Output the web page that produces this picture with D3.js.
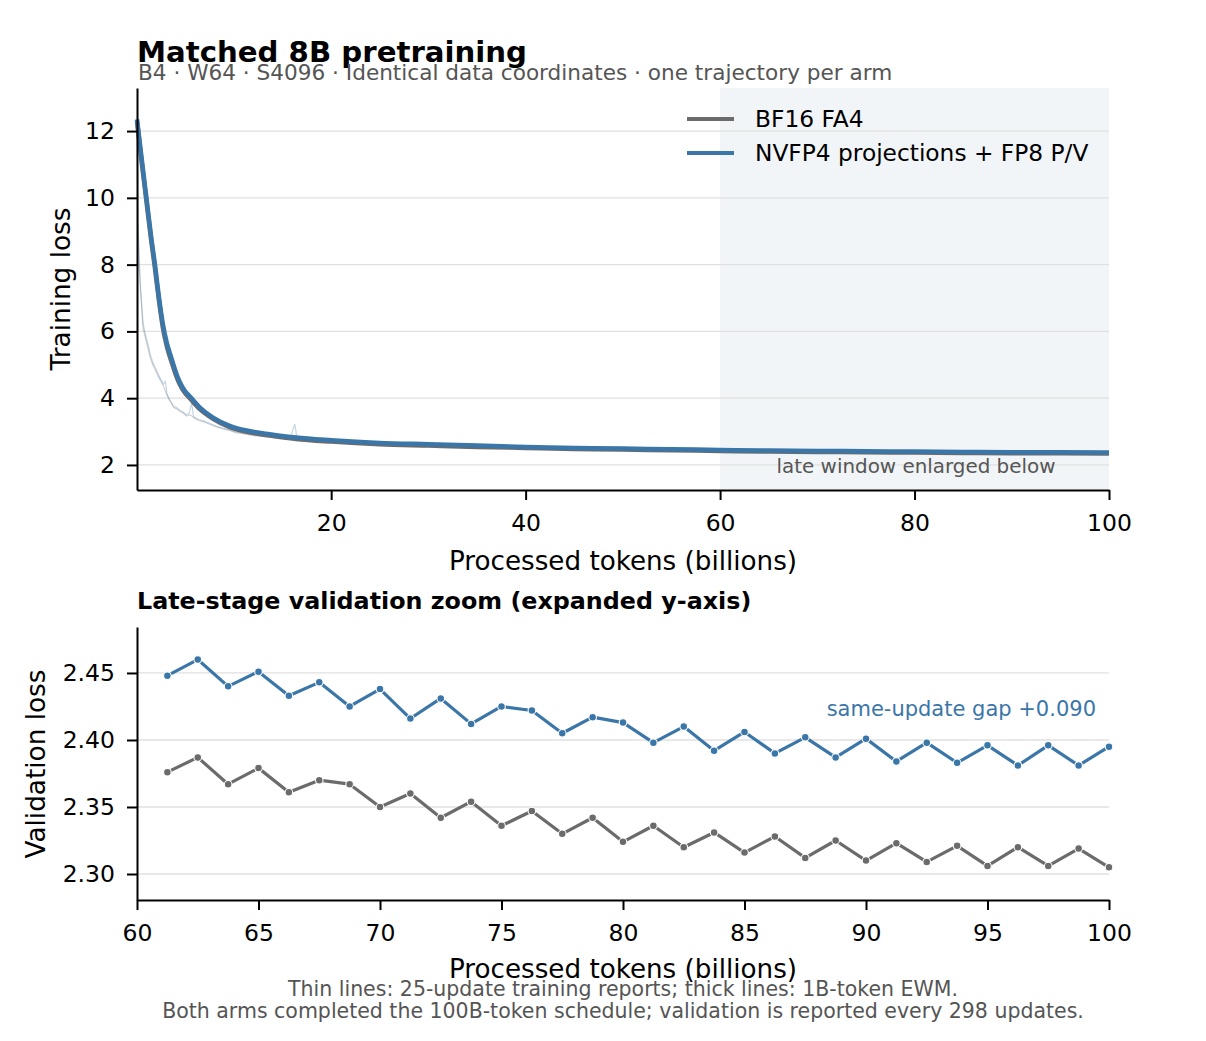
<!DOCTYPE html>
<html>
<head>
<meta charset="utf-8">
<script src="https://cdn.jsdelivr.net/npm/d3@7.9.0/dist/d3.min.js"></script>
<style>
  body { margin: 0; background: #fff; }
  svg text { font-family: "DejaVu Sans", sans-serif; }
</style>
</head>
<body>
<svg id="chart" width="1206" height="1041"></svg>
<script>
// training loss, thick lines = 1B-token EWM (tokens in billions, loss)
const bf16Ewm = [
  [0.03, 12.3], [0.5, 11.1], [1.0, 9.9], [1.5, 8.7], [1.85, 7.95], [2.3, 6.9],
  [2.7, 6.1], [3.1, 5.55], [3.57, 5.1], [4.0, 4.72], [4.4, 4.43], [5.0, 4.14],
  [5.45, 4.0], [6.5, 3.67], [7.85, 3.38], [9.5, 3.14], [11.3, 2.99], [13.5, 2.89],
  [16.4, 2.78], [20, 2.7], [25, 2.62], [30, 2.58], [35, 2.54], [40, 2.51],
  [45, 2.48], [50, 2.46], [55, 2.44], [60, 2.42], [65, 2.4], [70, 2.39],
  [75, 2.38], [80, 2.37], [85, 2.36], [90, 2.35], [95, 2.35], [100, 2.34]
];
const nvfp4Ewm = [
  [0.03, 12.35], [0.5, 11.2], [1.0, 10.0], [1.5, 8.8], [1.85, 8.06], [2.3, 7.0],
  [2.7, 6.2], [3.1, 5.65], [3.57, 5.2], [4.0, 4.8], [4.4, 4.5], [5.0, 4.2],
  [5.45, 4.06], [6.5, 3.72], [7.85, 3.42], [9.5, 3.18], [11.3, 3.03], [13.5, 2.93],
  [16.4, 2.82], [20, 2.74], [25, 2.66], [30, 2.62], [35, 2.58], [40, 2.54],
  [45, 2.51], [50, 2.49], [55, 2.47], [60, 2.45], [65, 2.43], [70, 2.42],
  [75, 2.41], [80, 2.4], [85, 2.39], [90, 2.38], [95, 2.38], [100, 2.37]
];
// thin lines = 25-update training reports
const bf16Raw = [
  [0.03, 12.2], [0.14, 9.0], [0.25, 8.0], [0.38, 7.25], [0.65, 6.1], [0.9, 5.8],
  [1.16, 5.5], [1.4, 5.2], [1.68, 4.98], [1.95, 4.82], [2.2, 4.66], [2.5, 4.5],
  [2.75, 4.36], [3.1, 4.1], [3.5, 3.88], [3.8, 3.72], [4.1, 3.68], [4.45, 3.6],
  [4.8, 3.55], [5.1, 3.47], [5.5, 3.5], [5.85, 3.42], [6.35, 3.33], [6.9, 3.29],
  [7.5, 3.22], [8.2, 3.14], [8.9, 3.08], [9.6, 3.03], [10.3, 2.96], [11.1, 2.93],
  [12, 2.88], [13.7, 2.83], [15.8, 2.79], [18, 2.75], [20, 2.7], [24, 2.63],
  [28, 2.59], [33, 2.55], [38, 2.51], [44, 2.48], [50, 2.45], [56, 2.43],
  [62, 2.41], [68, 2.39], [74, 2.38], [80, 2.37], [86, 2.36], [92, 2.35], [100, 2.34]
];
const nvfp4Raw = [
  [0.03, 12.3], [0.14, 9.2], [0.25, 8.2], [0.38, 7.4], [0.65, 6.25], [0.9, 5.9],
  [1.16, 5.6], [1.4, 5.3], [1.68, 5.05], [1.95, 4.9], [2.2, 4.72], [2.5, 4.55],
  [2.75, 4.42], [2.95, 4.5], [3.1, 4.15], [3.25, 4.02], [3.5, 3.9], [3.8, 3.76],
  [4.1, 3.72], [4.45, 3.64], [4.8, 3.58], [5.1, 3.5], [5.4, 3.55], [5.65, 3.85],
  [5.85, 3.45], [6.35, 3.36], [6.9, 3.32], [7.5, 3.25], [8.2, 3.16], [8.9, 3.1],
  [9.6, 3.05], [10.3, 2.98], [11.1, 2.95], [12, 2.9], [12.8, 2.88], [13.7, 2.85],
  [14.8, 2.83], [15.8, 2.81], [16.25, 3.23], [16.5, 2.8], [18, 2.77], [20, 2.73],
  [24, 2.67], [28, 2.63], [33, 2.59], [38, 2.55], [44, 2.52], [50, 2.49],
  [56, 2.47], [62, 2.45], [68, 2.43], [74, 2.42], [80, 2.41], [86, 2.4], [92, 2.39], [100, 2.38]
];

// validation, every 298 updates x4 (~1.25B tokens)
const valTokens = [
  61.25, 62.5, 63.75, 65, 66.25, 67.5, 68.75, 70, 71.25, 72.5, 73.75, 75,
  76.25, 77.5, 78.75, 80, 81.25, 82.5, 83.75, 85, 86.25, 87.5, 88.75, 90,
  91.25, 92.5, 93.75, 95, 96.25, 97.5, 98.75, 100
];
const bf16Val = [
  2.376, 2.387, 2.367, 2.379, 2.361, 2.370, 2.367, 2.350, 2.360, 2.342, 2.354, 2.336,
  2.347, 2.330, 2.342, 2.324, 2.336, 2.320, 2.331, 2.316, 2.328, 2.312, 2.325, 2.310,
  2.323, 2.309, 2.321, 2.306, 2.320, 2.306, 2.319, 2.305
];
const nvfp4Val = [
  2.448, 2.460, 2.440, 2.451, 2.433, 2.443, 2.425, 2.438, 2.416, 2.431, 2.412, 2.425,
  2.422, 2.405, 2.417, 2.413, 2.398, 2.410, 2.392, 2.406, 2.390, 2.402, 2.387, 2.401,
  2.384, 2.398, 2.383, 2.396, 2.381, 2.396, 2.381, 2.395
];

const topXTicks = [20, 40, 60, 80, 100];
const topYTicks = [2, 4, 6, 8, 10, 12];
const botXTicks = [60, 65, 70, 75, 80, 85, 90, 95, 100];
const botYTicks = [2.30, 2.35, 2.40, 2.45];

const grayC = '#6b6b6b';
const blueC = '#3b76a8';

const svg = d3.select('#chart');
const left = 137, right = 1109;

// ---------- top panel ----------
const x1 = d3.scaleLinear().domain([0.03, 100]).range([left, right]);
const y1 = d3.scaleLinear().domain([1.25, 13.29]).range([490, 88]);

svg.append('rect')
  .attr('x', x1(60)).attr('y', 88)
  .attr('width', x1(100) - x1(60)).attr('height', 490 - 88)
  .attr('fill', '#f2f5f8');

svg.append('g').selectAll('line').data(topYTicks).join('line')
  .attr('x1', left).attr('x2', right)
  .attr('y1', d => y1(d)).attr('y2', d => y1(d))
  .attr('stroke', '#e0e0e0').attr('stroke-width', 1.3);

let line1 = d3.line().x(d => x1(d[0])).y(d => y1(d[1]));

svg.append('path').datum(bf16Raw).attr('d', line1)
  .attr('fill', 'none').attr('stroke', grayC).attr('stroke-opacity', 0.3).attr('stroke-width', 1.2);
svg.append('path').datum(nvfp4Raw).attr('d', line1)
  .attr('fill', 'none').attr('stroke', blueC).attr('stroke-opacity', 0.3).attr('stroke-width', 1.2);
svg.append('path').datum(bf16Ewm).attr('d', line1.curve(d3.curveMonotoneX))
  .attr('fill', 'none').attr('stroke', grayC).attr('stroke-width', 4.5).attr('stroke-linejoin', 'round');
svg.append('path').datum(nvfp4Ewm).attr('d', line1)
  .attr('fill', 'none').attr('stroke', blueC).attr('stroke-width', 4.5).attr('stroke-linejoin', 'round');

let xAxis1 = svg.append('g').attr('transform', 'translate(0,490)')
  .call(d3.axisBottom(x1).tickValues(topXTicks).tickSize(10).tickSizeOuter(0).tickPadding(14));
let yAxis1 = svg.append('g').attr('transform', `translate(${left},0)`)
  .call(d3.axisLeft(y1).tickValues(topYTicks).tickSize(10).tickSizeOuter(0).tickPadding(12));

svg.append('text').attr('x', 916).attr('y', 473).attr('text-anchor', 'middle')
  .attr('font-size', 19.9).attr('fill', '#555').text('late window enlarged below');

// legend
const legendItems = [['BF16 FA4', grayC], ['NVFP4 projections + FP8 P/V', blueC]];
legendItems.forEach(([label, c], i) => {
  let yy = 119 + i * 34;
  svg.append('line').attr('x1', 687).attr('x2', 734).attr('y1', yy).attr('y2', yy)
    .attr('stroke', c).attr('stroke-width', 4);
  svg.append('text').attr('x', 755).attr('y', yy + 8).attr('font-size', 23.3)
    .attr('fill', '#000').text(label);
});

svg.append('text').attr('x', 137).attr('y', 62).attr('font-size', 29.2)
  .attr('font-weight', 'bold').text('Matched 8B pretraining');
svg.append('text').attr('x', 138).attr('y', 80).attr('font-size', 21.6)
  .attr('fill', '#555').text('B4 · W64 · S4096 · Identical data coordinates · one trajectory per arm');
svg.append('text').attr('transform', 'translate(61,289) rotate(-90)')
  .attr('text-anchor', 'middle').attr('dominant-baseline', 'central')
  .attr('font-size', 26.3).text('Training loss');
svg.append('text').attr('x', 623).attr('y', 570).attr('text-anchor', 'middle')
  .attr('font-size', 26.2).text('Processed tokens (billions)');

// ---------- bottom panel ----------
const x2 = d3.scaleLinear().domain([60, 100]).range([left, right]);
const y2 = d3.scaleLinear().domain([2.2806, 2.4843]).range([900, 627]);

svg.append('g').selectAll('line').data(botYTicks).join('line')
  .attr('x1', left).attr('x2', right)
  .attr('y1', d => y2(d)).attr('y2', d => y2(d))
  .attr('stroke', '#e0e0e0').attr('stroke-width', 1.3);

const series = [[bf16Val, grayC], [nvfp4Val, blueC]];
series.forEach(([vals, c]) => {
  let pts = valTokens.map((t, i) => [t, vals[i]]);
  svg.append('path').datum(pts)
    .attr('d', d3.line().x(d => x2(d[0])).y(d => y2(d[1])))
    .attr('fill', 'none').attr('stroke', c).attr('stroke-width', 3.2).attr('stroke-linejoin', 'round');
  svg.append('g').selectAll('circle').data(pts).join('circle')
    .attr('cx', d => x2(d[0])).attr('cy', d => y2(d[1])).attr('r', 3.8)
    .attr('fill', c).attr('stroke', '#fff').attr('stroke-width', 1.1);
});

let xAxis2 = svg.append('g').attr('transform', 'translate(0,900)')
  .call(d3.axisBottom(x2).tickValues(botXTicks).tickSize(10).tickSizeOuter(0).tickPadding(14));
let yAxis2 = svg.append('g').attr('transform', `translate(${left},0)`)
  .call(d3.axisLeft(y2).tickValues(botYTicks).tickFormat(d3.format('.2f'))
    .tickSize(10).tickSizeOuter(0).tickPadding(12));

svg.append('text').attr('x', 1096).attr('y', 716).attr('text-anchor', 'end')
  .attr('font-size', 21).attr('fill', blueC).text('same-update gap +0.090');

svg.append('text').attr('x', 137).attr('y', 609).attr('font-size', 23.8)
  .attr('font-weight', 'bold').text('Late-stage validation zoom (expanded y-axis)');
svg.append('text').attr('transform', 'translate(36,764) rotate(-90)')
  .attr('text-anchor', 'middle').attr('dominant-baseline', 'central')
  .attr('font-size', 26.3).text('Validation loss');
svg.append('text').attr('x', 623).attr('y', 978).attr('text-anchor', 'middle')
  .attr('font-size', 26.2).text('Processed tokens (billions)');

svg.append('text').attr('x', 623).attr('y', 996).attr('text-anchor', 'middle')
  .attr('font-size', 20.5).attr('fill', '#555')
  .text('Thin lines: 25-update training reports; thick lines: 1B-token EWM.');
svg.append('text').attr('x', 623).attr('y', 1018).attr('text-anchor', 'middle')
  .attr('font-size', 20.5).attr('fill', '#555')
  .text('Both arms completed the 100B-token schedule; validation is reported every 298 updates.');

// axis styling
[xAxis1, yAxis1, xAxis2, yAxis2].forEach(a => {
  a.selectAll('.domain').attr('stroke', '#000').attr('stroke-width', 2);
  a.selectAll('.tick line').attr('stroke', '#000').attr('stroke-width', 2);
  a.selectAll('.tick text').attr('font-size', 23.5).attr('fill', '#000')
    .attr('font-family', '"DejaVu Sans", sans-serif');
});
</script>
</body>
</html>
